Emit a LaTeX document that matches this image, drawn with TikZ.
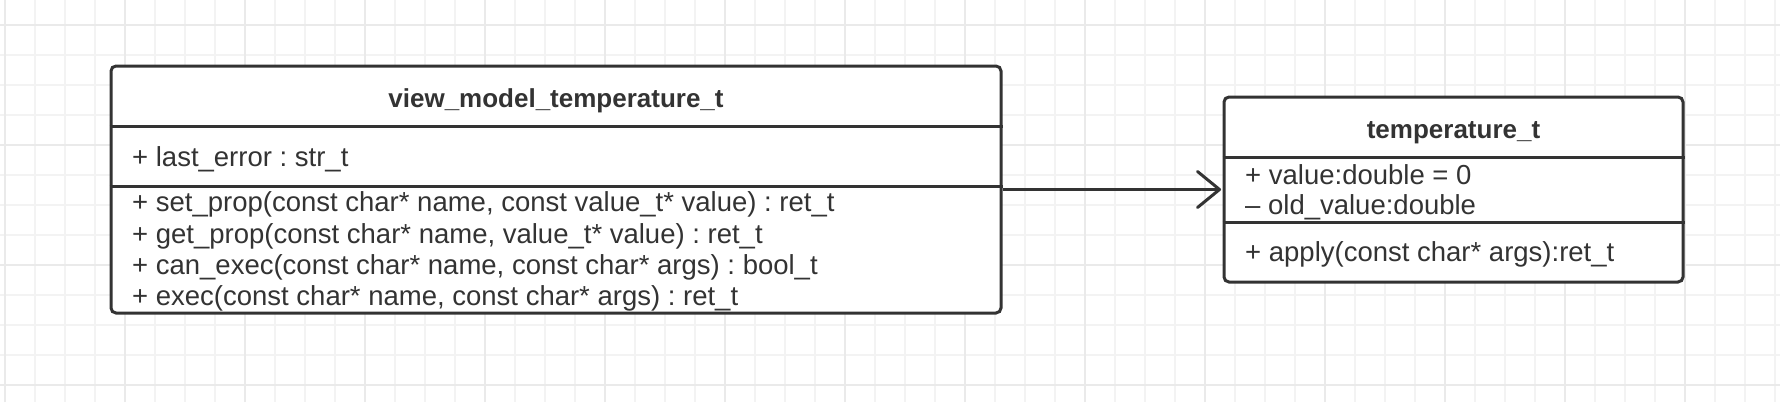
\documentclass[tikz,border=0pt]{standalone}
\usepackage{fontspec}
\setmainfont{Liberation Sans}
\usepackage{tikz}
\usetikzlibrary{arrows.meta}
\definecolor{umlline}{HTML}{333333}
\definecolor{gridminor}{HTML}{F3F3F3}
\definecolor{gridmajor}{HTML}{EAEAEA}
\frenchspacing

\begin{document}
\begin{tikzpicture}[x=1pt,y=-1pt,
  classbox/.style={draw=umlline, line width=3pt, rounded corners=5pt, fill=white, inner sep=0pt},
  classname/.style={anchor=base, inner sep=0pt, text=umlline, font=\fontsize{26}{30}\selectfont\bfseries},
  member/.style={anchor=base west, inner sep=0pt, text=umlline, font=\fontsize{27.5}{31}\selectfont},
  sepline/.style={draw=umlline, line width=3pt},
  assoc/.style={draw=umlline, line width=3pt, shorten >=1.5pt, -{Straight Barb[length=22pt,width=36pt,round]}}]
\useasboundingbox (0,0) rectangle (1780,402);
% Draw background grid
\fill[white] (0,0) rectangle (1780,402);
\begin{scope}[shift={(5,25)}]
\draw [gridminor, line width=1.5pt, step=30pt] (-5,-25) grid (1775,377);
\draw [gridmajor, line width=1.5pt, step=120pt] (-5,-25) grid (1775,377);
\end{scope}

% Draw view model class
\node [classbox, minimum width=890pt, minimum height=247pt] (vm) at (556,189.5) {};
\draw [sepline] (vm.west |- 0,126) -- (vm.east |- 0,126);
\draw [sepline] (vm.west |- 0,186) -- (vm.east |- 0,186);
\node [classname] (vmname) at (556,107) {view\_model\_temperature\_t};
\node [member] (vmattr) at (132,166) {+ last\_error : str\_t};
\node [member] (vmset) at (132,211) {+ set\_prop(const char* name, const value\_t* value) : ret\_t};
\node [member] (vmget) at (132,243) {+ get\_prop(const char* name, value\_t* value) : ret\_t};
\node [member] (vmcan) at (132,274) {+ can\_exec(const char* name, const char* args) : bool\_t};
\node [member] (vmexec) at (132,305) {+ exec(const char* name, const char* args) : ret\_t};

% Draw temperature class
\node [classbox, minimum width=459pt, minimum height=185pt] (temp) at (1453.5,189.5) {};
\draw [sepline] (temp.west |- 0,157) -- (temp.east |- 0,157);
\draw [sepline] (temp.west |- 0,222) -- (temp.east |- 0,222);
\node [classname] (tempname) at (1453.5,138) {temperature\_t};
\node [member] (tempvalue) at (1245,184) {+ value:double = 0};
\node [member] (tempold) at (1245,214) {– old\_value:double};
\node [member] (tempapply) at (1245,261) {+ apply(const char* args):ret\_t};

% Draw association
\draw [assoc] (vm) -- (temp);
\end{tikzpicture}
\end{document}
